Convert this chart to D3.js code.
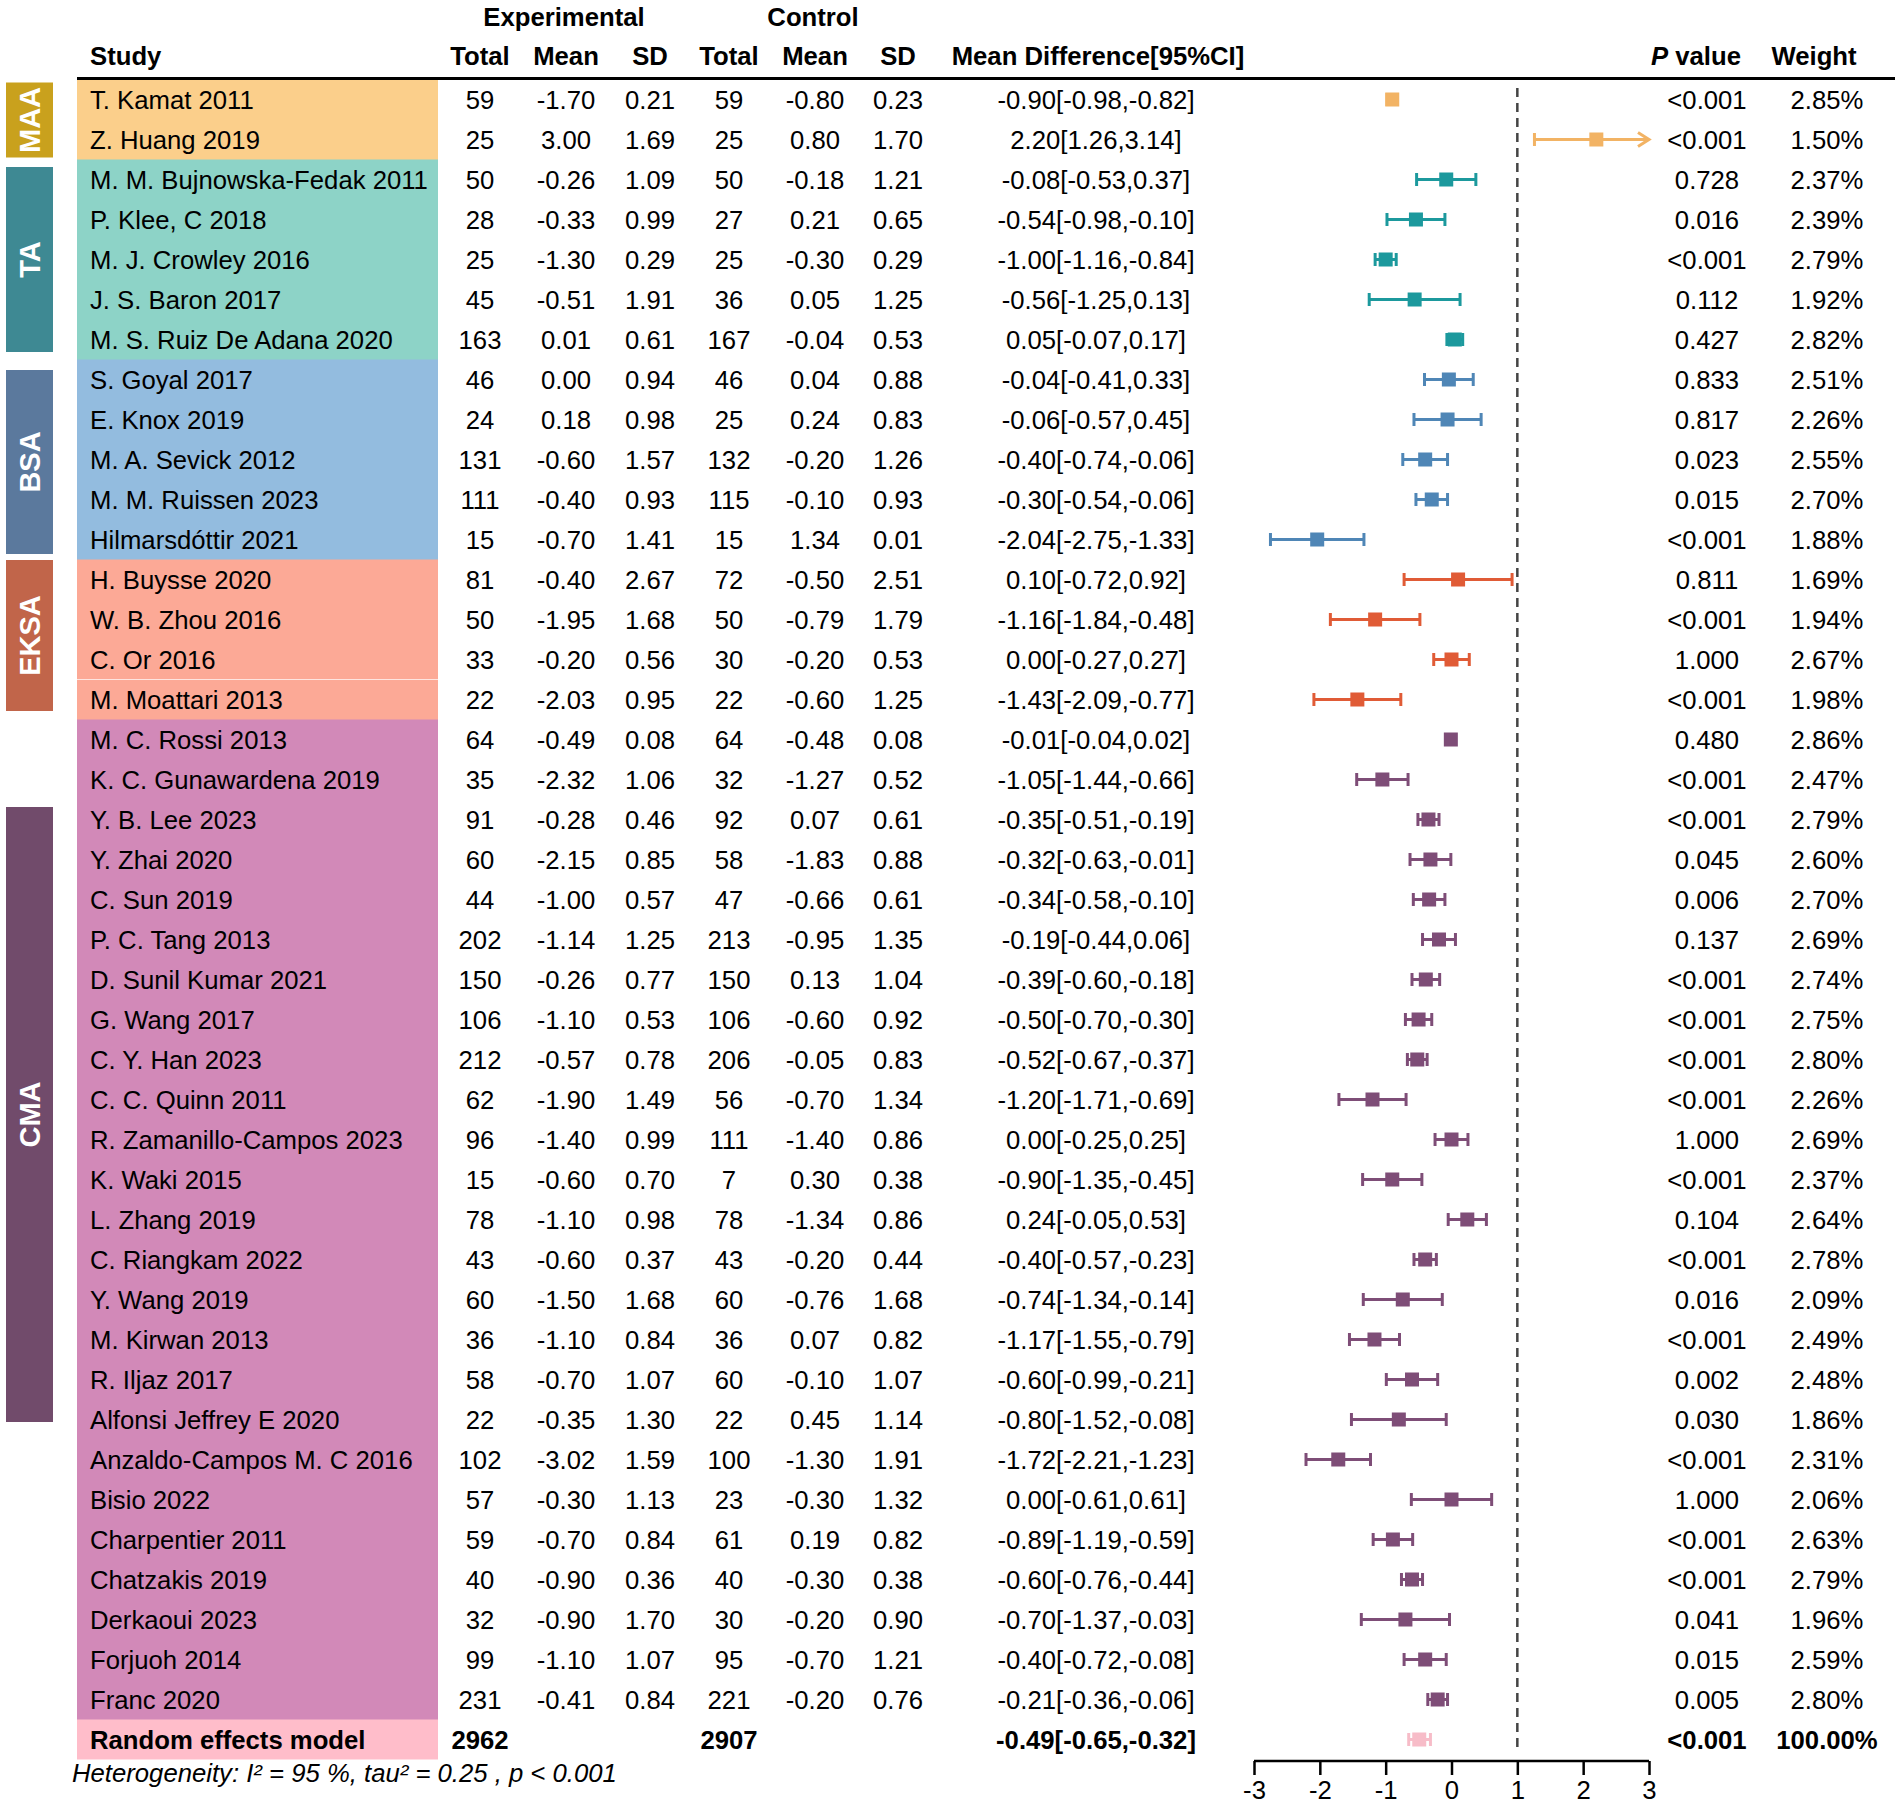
<!DOCTYPE html>
<html>
<head>
<meta charset="utf-8">
<script src="https://cdn.jsdelivr.net/npm/d3@7"></script>
<style>
  body { margin: 0; background: #fff; }
  text { font-family: "Liberation Sans", Arial, sans-serif; }
</style>
</head>
<body>
<div id="w"></div>
<script>
// ---- data ----
var groupNames = ["MAA", "TA", "BSA", "EKSA", "CMA"];
var groupSizes = [2, 5, 5, 4, 25];

var studies = ["T. Kamat 2011", "Z. Huang 2019", "M. M. Bujnowska-Fedak 2011", "P. Klee, C 2018",
  "M. J. Crowley 2016", "J. S. Baron 2017", "M. S. Ruiz De Adana 2020", "S. Goyal 2017", "E. Knox 2019",
  "M. A. Sevick 2012", "M. M. Ruissen 2023", "Hilmarsdóttir 2021", "H. Buysse 2020", "W. B. Zhou 2016",
  "C. Or 2016", "M. Moattari 2013", "M. C. Rossi 2013", "K. C. Gunawardena 2019", "Y. B. Lee 2023",
  "Y. Zhai 2020", "C. Sun 2019", "P. C. Tang 2013", "D. Sunil Kumar 2021", "G. Wang 2017", "C. Y. Han 2023",
  "C. C. Quinn 2011", "R. Zamanillo-Campos 2023", "K. Waki 2015", "L. Zhang 2019", "C. Riangkam 2022",
  "Y. Wang 2019", "M. Kirwan 2013", "R. Iljaz 2017", "Alfonsi Jeffrey E 2020", "Anzaldo-Campos M. C 2016",
  "Bisio 2022", "Charpentier 2011", "Chatzakis 2019", "Derkaoui 2023", "Forjuoh 2014", "Franc 2020"];

var expTotal = [59, 25, 50, 28, 25, 45, 163, 46, 24, 131, 111, 15, 81, 50, 33, 22, 64, 35, 91, 60, 44, 202, 150,
  106, 212, 62, 96, 15, 78, 43, 60, 36, 58, 22, 102, 57, 59, 40, 32, 99, 231];
var expMean = [-1.70, 3.00, -0.26, -0.33, -1.30, -0.51, 0.01, 0.00, 0.18, -0.60, -0.40, -0.70, -0.40, -1.95, -0.20,
  -2.03, -0.49, -2.32, -0.28, -2.15, -1.00, -1.14, -0.26, -1.10, -0.57, -1.90, -1.40, -0.60, -1.10, -0.60, -1.50,
  -1.10, -0.70, -0.35, -3.02, -0.30, -0.70, -0.90, -0.90, -1.10, -0.41];
var expSD = [0.21, 1.69, 1.09, 0.99, 0.29, 1.91, 0.61, 0.94, 0.98, 1.57, 0.93, 1.41, 2.67, 1.68, 0.56, 0.95, 0.08,
  1.06, 0.46, 0.85, 0.57, 1.25, 0.77, 0.53, 0.78, 1.49, 0.99, 0.70, 0.98, 0.37, 1.68, 0.84, 1.07, 1.30, 1.59, 1.13,
  0.84, 0.36, 1.70, 1.07, 0.84];
var ctlTotal = [59, 25, 50, 27, 25, 36, 167, 46, 25, 132, 115, 15, 72, 50, 30, 22, 64, 32, 92, 58, 47, 213, 150,
  106, 206, 56, 111, 7, 78, 43, 60, 36, 60, 22, 100, 23, 61, 40, 30, 95, 221];
var ctlMean = [-0.80, 0.80, -0.18, 0.21, -0.30, 0.05, -0.04, 0.04, 0.24, -0.20, -0.10, 1.34, -0.50, -0.79, -0.20,
  -0.60, -0.48, -1.27, 0.07, -1.83, -0.66, -0.95, 0.13, -0.60, -0.05, -0.70, -1.40, 0.30, -1.34, -0.20, -0.76,
  0.07, -0.10, 0.45, -1.30, -0.30, 0.19, -0.30, -0.20, -0.70, -0.20];
var ctlSD = [0.23, 1.70, 1.21, 0.65, 0.29, 1.25, 0.53, 0.88, 0.83, 1.26, 0.93, 0.01, 2.51, 1.79, 0.53, 1.25, 0.08,
  0.52, 0.61, 0.88, 0.61, 1.35, 1.04, 0.92, 0.83, 1.34, 0.86, 0.38, 0.86, 0.44, 1.68, 0.82, 1.07, 1.14, 1.91, 1.32,
  0.82, 0.38, 0.90, 1.21, 0.76];
var md = [-0.90, 2.20, -0.08, -0.54, -1.00, -0.56, 0.05, -0.04, -0.06, -0.40, -0.30, -2.04, 0.10, -1.16, 0.00,
  -1.43, -0.01, -1.05, -0.35, -0.32, -0.34, -0.19, -0.39, -0.50, -0.52, -1.20, 0.00, -0.90, 0.24, -0.40, -0.74,
  -1.17, -0.60, -0.80, -1.72, 0.00, -0.89, -0.60, -0.70, -0.40, -0.21];
var ciLow = [-0.98, 1.26, -0.53, -0.98, -1.16, -1.25, -0.07, -0.41, -0.57, -0.74, -0.54, -2.75, -0.72, -1.84, -0.27,
  -2.09, -0.04, -1.44, -0.51, -0.63, -0.58, -0.44, -0.60, -0.70, -0.67, -1.71, -0.25, -1.35, -0.05, -0.57, -1.34,
  -1.55, -0.99, -1.52, -2.21, -0.61, -1.19, -0.76, -1.37, -0.72, -0.36];
var ciHigh = [-0.82, 3.14, 0.37, -0.10, -0.84, 0.13, 0.17, 0.33, 0.45, -0.06, -0.06, -1.33, 0.92, -0.48, 0.27,
  -0.77, 0.02, -0.66, -0.19, -0.01, -0.10, 0.06, -0.18, -0.30, -0.37, -0.69, 0.25, -0.45, 0.53, -0.23, -0.14,
  -0.79, -0.21, -0.08, -1.23, 0.61, -0.59, -0.44, -0.03, -0.08, -0.06];
var pValue = ["<0.001", "<0.001", "0.728", "0.016", "<0.001", "0.112", "0.427", "0.833", "0.817", "0.023", "0.015",
  "<0.001", "0.811", "<0.001", "1.000", "<0.001", "0.480", "<0.001", "<0.001", "0.045", "0.006", "0.137", "<0.001",
  "<0.001", "<0.001", "<0.001", "1.000", "<0.001", "0.104", "<0.001", "0.016", "<0.001", "0.002", "0.030", "<0.001",
  "1.000", "<0.001", "<0.001", "0.041", "0.015", "0.005"];
var weight = ["2.85%", "1.50%", "2.37%", "2.39%", "2.79%", "1.92%", "2.82%", "2.51%", "2.26%", "2.55%", "2.70%",
  "1.88%", "1.69%", "1.94%", "2.67%", "1.98%", "2.86%", "2.47%", "2.79%", "2.60%", "2.70%", "2.69%", "2.74%",
  "2.75%", "2.80%", "2.26%", "2.69%", "2.37%", "2.64%", "2.78%", "2.09%", "2.49%", "2.48%", "1.86%", "2.31%",
  "2.06%", "2.63%", "2.79%", "1.96%", "2.59%", "2.80%"];

var pooled = { name: "Random effects model", expTotal: 2962, ctlTotal: 2907, md: -0.49, lo: -0.65, hi: -0.32, p: "<0.001", w: "100.00%" };
var heterogeneity = "Heterogeneity: I² = 95 %, tau² = 0.25 , p < 0.001";
var xTicks = [-3, -2, -1, 0, 1, 2, 3];

// ---- style ----
var bandColor = ["#fbcf8b", "#8dd3c7", "#93bcdf", "#fca996", "#d289b8"];
var boxColor = ["#c9a11d", "#3e8993", "#5b799d", "#c1654a", "#714b6b"];
var markColor = ["#f2b364", "#1c999d", "#4f86b6", "#e05b36", "#7e4d77"];
var pooledBand = "#ffbdca", pooledMark = "#f7bcc8";
var boxRows = [[0, 1], [2, 6], [7, 11], [12, 15], [18, 33]];
var boxInset = [[3, 2], [7.5, 7.5], [10.5, 5.5], [0.5, 8.5], [7.5, 17.5]];
var FS = "25.7px";

var W = 1902, H = 1806;
var svg = d3.select("#w").append("svg").attr("width", W).attr("height", H);

var groupOf = [];
groupSizes.forEach(function (n, g) { for (var k = 0; k < n; k++) groupOf.push(g); });

var nRows = studies.length + 1;
var y = d3.scaleBand().domain(d3.range(nRows)).range([79.5, 79.5 + 40 * nRows]);
var yc = function (i) { return y(i) + y.bandwidth() / 2; };
var x = d3.scaleLinear().domain([-3, 3]).range([1254, 1649]);

var cols = { study: 90, eT: 480, eM: 566, eS: 650, cT: 729, cM: 815, cS: 898, md: 1096, p: 1707, w: 1827 };
var f2 = function (v) { return v.toFixed(2); };
var bandX = 77, bandW = 361;

// row bands
svg.append("g").selectAll("rect").data(studies).enter().append("rect")
  .attr("x", bandX).attr("width", bandW)
  .attr("y", function (d, i) { return y(i); })
  .attr("height", y.bandwidth() + 0.5)
  .attr("fill", function (d, i) { return bandColor[groupOf[i]]; });
svg.append("rect").attr("x", bandX).attr("width", bandW)
  .attr("y", y(studies.length)).attr("height", y.bandwidth()).attr("fill", pooledBand);
svg.append("line").attr("x1", bandX).attr("x2", bandX + bandW).attr("y1", y(15)).attr("y2", y(15))
  .attr("stroke", "#fff").attr("stroke-opacity", 0.7).attr("stroke-width", 1);

// group boxes
var boxes = svg.append("g").selectAll("g").data(groupNames).enter().append("g");
boxes.append("rect")
  .attr("x", 6).attr("width", 47)
  .attr("y", function (d, g) { return y(boxRows[g][0]) + boxInset[g][0]; })
  .attr("height", function (d, g) { return y(boxRows[g][1]) + y.bandwidth() - boxInset[g][1] - y(boxRows[g][0]) - boxInset[g][0]; })
  .attr("fill", function (d, g) { return boxColor[g]; });
boxes.append("text")
  .attr("transform", function (d, g) {
    var t = y(boxRows[g][0]) + boxInset[g][0], b = y(boxRows[g][1]) + y.bandwidth() - boxInset[g][1];
    return "translate(29.5," + (t + b) / 2 + ") rotate(-90)";
  })
  .attr("text-anchor", "middle").attr("dy", "0.36em")
  .attr("fill", "#fff").style("font-weight", "bold").style("font-size", "29px")
  .text(function (d) { return d; });

// header
var hdr = svg.append("g").style("font-weight", "bold").style("font-size", FS).attr("text-anchor", "middle");
hdr.append("text").attr("x", 564).attr("y", 17).attr("dy", "0.36em").text("Experimental");
hdr.append("text").attr("x", 813).attr("y", 17).attr("dy", "0.36em").text("Control");
hdr.append("text").attr("x", cols.study).attr("y", 56).attr("dy", "0.36em").attr("text-anchor", "start").text("Study");
[["Total", cols.eT], ["Mean", cols.eM], ["SD", cols.eS], ["Total", cols.cT], ["Mean", cols.cM], ["SD", cols.cS],
 ["Mean Difference[95%CI]", 1098], ["Weight", 1814]].forEach(function (h) {
  hdr.append("text").attr("x", h[1]).attr("y", 56).attr("dy", "0.36em").text(h[0]);
});
var pv = hdr.append("text").attr("x", 1696).attr("y", 56).attr("dy", "0.36em");
pv.append("tspan").style("font-style", "italic").text("P");
pv.append("tspan").text(" value");
svg.append("line").attr("x1", bandX).attr("x2", 1895).attr("y1", 78.5).attr("y2", 78.5)
  .attr("stroke", "#000").attr("stroke-width", 3);

// table text
var rows = svg.append("g").style("font-size", FS).attr("fill", "#000");
var rowG = rows.selectAll("g").data(studies).enter().append("g")
  .attr("transform", function (d, i) { return "translate(0," + yc(i) + ")"; });
rowG.append("text").attr("x", cols.study).attr("dy", "0.36em").text(function (d) { return d; });
var cells = [
  [cols.eT, function (i) { return expTotal[i]; }],
  [cols.eM, function (i) { return f2(expMean[i]); }],
  [cols.eS, function (i) { return f2(expSD[i]); }],
  [cols.cT, function (i) { return ctlTotal[i]; }],
  [cols.cM, function (i) { return f2(ctlMean[i]); }],
  [cols.cS, function (i) { return f2(ctlSD[i]); }],
  [cols.md, function (i) { return f2(md[i]) + "[" + f2(ciLow[i]) + "," + f2(ciHigh[i]) + "]"; }],
  [cols.p, function (i) { return pValue[i]; }],
  [cols.w, function (i) { return weight[i]; }]
];
cells.forEach(function (c) {
  rowG.append("text").attr("x", c[0]).attr("dy", "0.36em").attr("text-anchor", "middle")
    .text(function (d, i) { return c[1](i); });
});

// pooled row text
var pr = svg.append("g").attr("transform", "translate(0," + yc(studies.length) + ")")
  .style("font-size", FS).style("font-weight", "bold").attr("text-anchor", "middle");
pr.append("text").attr("x", cols.study).attr("dy", "0.36em").attr("text-anchor", "start").text(pooled.name);
pr.append("text").attr("x", cols.eT).attr("dy", "0.36em").text(pooled.expTotal);
pr.append("text").attr("x", cols.cT).attr("dy", "0.36em").text(pooled.ctlTotal);
pr.append("text").attr("x", cols.md).attr("dy", "0.36em").text(f2(pooled.md) + "[" + f2(pooled.lo) + "," + f2(pooled.hi) + "]");
pr.append("text").attr("x", cols.p).attr("dy", "0.36em").text(pooled.p);
pr.append("text").attr("x", cols.w).attr("dy", "0.36em").text(pooled.w);

svg.append("text").attr("x", 72).attr("y", 1773).attr("dy", "0.36em")
  .style("font-size", FS).style("font-style", "italic").text(heterogeneity);

// reference line
svg.append("line").attr("x1", x(1)).attr("x2", x(1)).attr("y1", 88).attr("y2", 1750)
  .attr("stroke", "#444").attr("stroke-width", 2.5).attr("stroke-dasharray", "9,6");

// forest marks
var pts = studies.map(function (s, i) {
  return { i: i, m: md[i], lo: ciLow[i], hi: ciHigh[i], c: markColor[groupOf[i]] };
});
pts.push({ i: studies.length, m: pooled.md, lo: pooled.lo, hi: pooled.hi, c: pooledMark });

var mk = svg.append("g").selectAll("g").data(pts).enter().append("g")
  .attr("transform", function (d) { return "translate(0," + yc(d.i) + ")"; });
mk.append("line")
  .attr("x1", function (d) { return x(Math.max(d.lo, -3)); })
  .attr("x2", function (d) { return x(Math.min(d.hi, 3)); })
  .attr("stroke", function (d) { return d.c; }).attr("stroke-width", 3);
mk.append("line")
  .attr("x1", function (d) { return x(d.lo); }).attr("x2", function (d) { return x(d.lo); })
  .attr("y1", -6.5).attr("y2", 6.5)
  .attr("stroke", function (d) { return d.c; }).attr("stroke-width", 3);
mk.filter(function (d) { return d.hi <= 3; }).append("line")
  .attr("x1", function (d) { return x(d.hi); }).attr("x2", function (d) { return x(d.hi); })
  .attr("y1", -6.5).attr("y2", 6.5)
  .attr("stroke", function (d) { return d.c; }).attr("stroke-width", 3);
mk.filter(function (d) { return d.hi > 3; }).append("path")
  .attr("d", function () { var e = x(3); return "M" + (e - 11) + ",-7L" + e + ",0L" + (e - 11) + ",7"; })
  .attr("fill", "none").attr("stroke", function (d) { return d.c; }).attr("stroke-width", 3);
mk.append("rect")
  .attr("x", function (d) { return x(d.m) - 7; }).attr("y", -7)
  .attr("width", 14).attr("height", 14)
  .attr("fill", function (d) { return d.c; });

// axis
var ax = svg.append("g").attr("transform", "translate(0,1761)")
  .call(d3.axisBottom(x).tickValues(xTicks).tickSize(14).tickPadding(6)
    .tickFormat(function (d) { return String(d); }));
ax.selectAll("path, line").attr("stroke", "#000").attr("stroke-width", 2.5);
ax.select(".domain").attr("d", "M" + x(-3) + ",0H" + x(3));
ax.selectAll("text").style("font-size", FS).attr("fill", "#000")
  .style("font-family", "'Liberation Sans', Arial, sans-serif");
</script>
</body>
</html>
